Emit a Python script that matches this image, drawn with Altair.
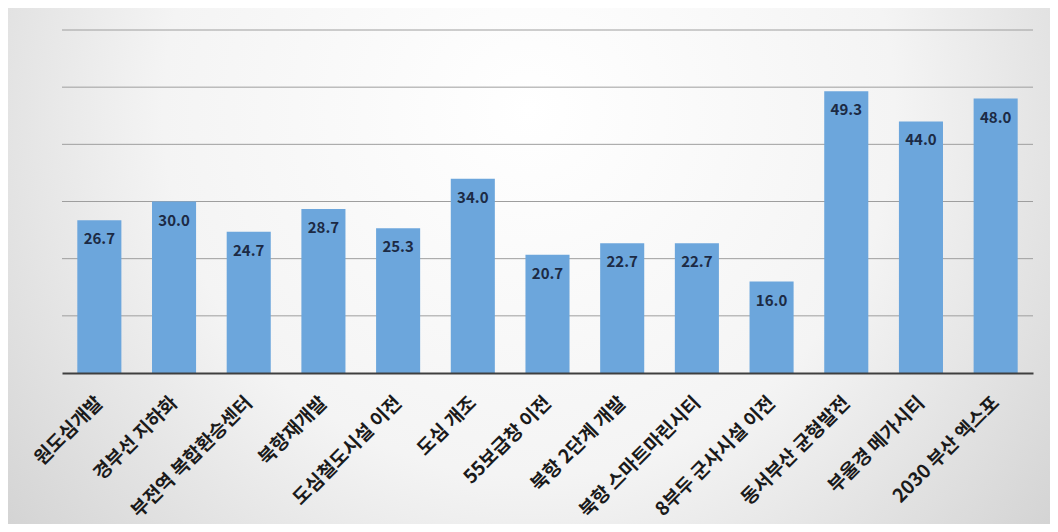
import altair as alt
import pandas as pd

categories = [
    "원도심개발", "경부선 지하화", "부전역 복합환승센터", "북항재개발",
    "도심철도시설 이전", "도심 개조", "55보급창 이전", "북항 2단계 개발",
    "북항 스마트마린시티", "8부두 군사시설 이전", "동서부산 균형발전",
    "부울경 메가시티", "2030 부산 엑스포",
]
values = [26.7, 30.0, 24.7, 28.7, 25.3, 34.0, 20.7, 22.7, 22.7, 16.0, 49.3, 44.0, 48.0]
grid_values = [10, 20, 30, 40, 50, 60]

FONT = "Noto Sans CJK KR"
W, H = 971, 343
PAD = {"left": 54, "top": 22, "right": 17, "bottom": 151}

df = pd.DataFrame({"cat": categories, "val": values})
grid_df = pd.DataFrame({"g": grid_values})

x_enc = alt.X(
    "cat:N",
    sort=categories,
    scale=alt.Scale(paddingInner=0.41, paddingOuter=0.205),
    axis=alt.Axis(
        title=None, labelAngle=-45, labelFont=FONT, labelFontSize=19,
        labelFontWeight="bold", labelColor="#1a1a1a", labelPadding=20,
        labelOffset=-6,
        ticks=False, domainColor="#3f3f3f", domainWidth=2, zindex=1,
        labelLimit=300,
    ),
)
y_scale = alt.Scale(domain=[0, 60], nice=False)

gradient = {
    "gradient": "radial",
    "x1": 0.5, "y1": 0.35, "r1": 0,
    "x2": 0.5, "y2": 0.35, "r2": 0.78,
    "stops": [
        {"offset": 0.0, "color": "#ffffff"},
        {"offset": 0.45, "color": "#f4f4f4"},
        {"offset": 1.0, "color": "#c4c4c4"},
    ],
}

bg = alt.Chart(pd.DataFrame({"d": [0]})).mark_rect(fill=gradient).encode(
    x=alt.value(-PAD["left"]), x2=alt.value(W + PAD["right"]),
    y=alt.value(-PAD["top"]), y2=alt.value(H + PAD["bottom"]),
)

grid = alt.Chart(grid_df).mark_rule(color="#9e9e9e", strokeWidth=1).encode(
    y=alt.Y("g:Q", scale=y_scale, axis=None),
)

bars = alt.Chart(df).mark_bar(color="#6CA6DC").encode(
    x=x_enc,
    y=alt.Y("val:Q", scale=y_scale, axis=None),
)

labels = alt.Chart(df).mark_text(
    dy=19, font=FONT, fontSize=15, fontWeight="bold", color="#1c2a44",
    baseline="middle",
).encode(
    x=alt.X("cat:N", sort=categories),
    y=alt.Y("val:Q", scale=y_scale),
    text=alt.Text("val:Q", format=".1f"),
)

chart = alt.layer(bg, grid, bars, labels).properties(
    width=W, height=H,
    autosize=alt.AutoSizeParams(type="none"),
    padding=PAD,
).configure_view(stroke=None).configure(background="#ffffff")

chart.save("out.html", embed_options={"renderer": "svg", "actions": False})
